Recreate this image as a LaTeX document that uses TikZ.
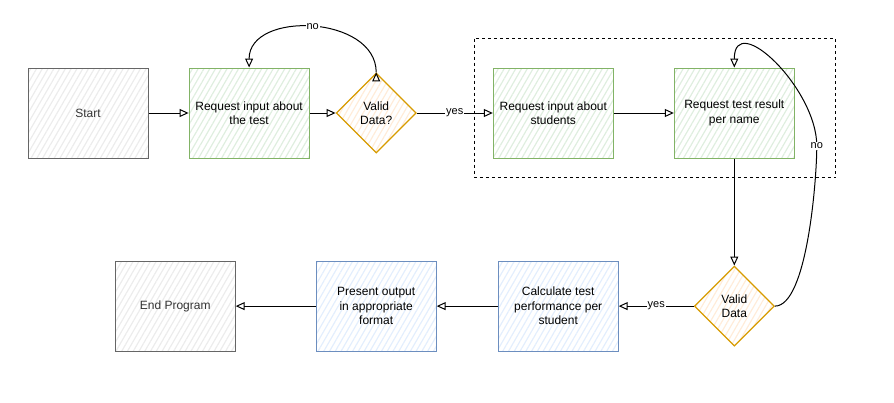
\documentclass[tikz,border=0pt]{standalone}
\usepackage{fontspec}
\setmainfont{Liberation Sans}
\usepackage{tikz}
\usetikzlibrary{arrows.meta,shapes,shapes.geometric,patterns.meta}
\usetikzlibrary{positioning,calc}
\definecolor{greenfill}{HTML}{D5E8D4}
\definecolor{greenline}{HTML}{82B366}
\definecolor{greyfill}{HTML}{E6E6E6}
\definecolor{greyline}{HTML}{666666}
\definecolor{bluefill}{HTML}{DAE8FC}
\definecolor{blueline}{HTML}{6C8EBF}
\definecolor{orangefill}{HTML}{FFE6CC}
\definecolor{orangeline}{HTML}{D79B00}
\tikzset{base box/.style={rectangle,draw,line width=1pt,minimum width=120pt,minimum height=90pt,inner sep=2pt,align=center,font=\fontsize{12}{14.5}\selectfont},
hatch/.style={pattern={Lines[angle=60,distance=5pt,line width=1.2pt]},pattern color=#1!75!white},
grey box/.style={base box,draw=greyline,text=black!80,hatch=greyfill},
green box/.style={base box,draw=greenline,hatch=greenfill},
blue box/.style={base box,draw=blueline,hatch=bluefill},
check node/.style={diamond,draw=orangeline,line width=1.2pt,minimum size=80pt,inner sep=0pt,align=center,font=\fontsize{12}{14.5}\selectfont,hatch=orangefill},
edge label/.style={fill=white,inner sep=1pt,font=\fontsize{11}{13}\selectfont},
flow/.style={draw,line width=1pt,-{Triangle[open,length=9pt,width=8pt]}},
dashed group/.style={draw,line width=0.9pt,dash pattern=on 3pt off 3pt},
}

\begin{document}
\begin{tikzpicture}[x=1pt,y=1pt]
		\useasboundingbox (0,0) rectangle (894,-402);
		\node[grey box] (start) at (88,-113) {Start};
		\node[green box] (testinfo) [right = 40pt of start] {Request input about\\the test};
		\node[check node] (valid1) [right = 26pt of testinfo] {Valid\\Data?};
		\node[green box] (students) [right = 76pt of valid1] {Request input about\\students};
		\node[green box] (results) [right = 60pt of students] {Request test result\\per name};
		\node[check node] (valid2) [below = 107pt of results] {Valid\\Data};
		\node[blue box] (perf) [left = 75pt of valid2] {Calculate test\\performance per\\student};
		\node[blue box] (output) [left = 61pt of perf] {Present output\\in appropriate\\format};
		\node[grey box] (end) [left = 80pt of output] {End Program};
		
		\draw[dashed group] ($(students.north west)+(-18,29)$) rectangle ($(results.south east)+(41,-19)$);
		\coordinate (noturn) at ($(results.east)+(22,-33)$);
		
		\path[flow]
		(start) edge (testinfo)
		(testinfo) edge (valid1)
		(valid1.north) edge[out=90,in=90,looseness=1.15] node[edge label] {no} (testinfo.north)
		(valid1) edge node[edge label] {yes} (students)
		(students) edge (results)
		(results) edge (valid2)
		(valid2) edge node[edge label] {yes} (perf)
		(perf) edge (output)
		(output) edge (end)
		;
		%%
		\draw[flow] (valid2.east) to[out=0,in=-90,looseness=0.5] (noturn) node[edge label] {no}
		to[out=90,in=90,looseness=1.3] (results.north);
	\end{tikzpicture}
\end{document}
